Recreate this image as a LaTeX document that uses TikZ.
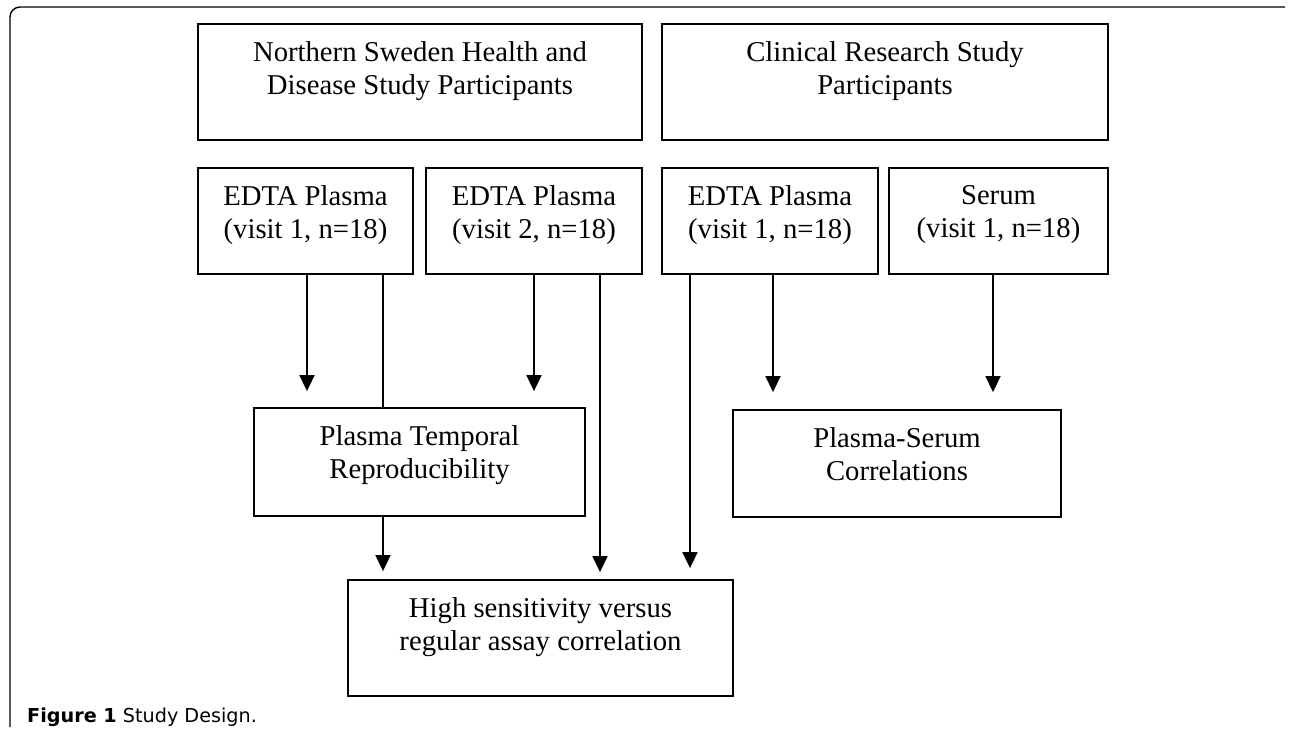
\documentclass[tikz,border=0pt]{standalone}
\usepackage{fontspec}
\setmainfont{Liberation Serif}
\newfontfamily\capfont{DejaVu Sans}
\usetikzlibrary{arrows.meta}
\begin{document}
\begin{tikzpicture}[x=1pt,y=-1pt,
  box/.style={draw, line width=1.8pt, inner sep=0pt},
  txt/.style={anchor=north, inner sep=0pt, align=center, font=\fontsize{28.7}{33.5}\selectfont},
  conn/.style={line width=1.6pt},
  arr/.style={line width=1.6pt, -{Triangle[width=15pt,length=16pt]}},
  frame/.style={line width=1.4pt}]
\useasboundingbox (0,0) rectangle (1290,739);
% frame
\draw[frame] (10,727) -- (10,17) arc[start angle=180,end angle=90,radius=10pt] -- (1285,7);
% boxes
\node[box, minimum width=444pt, minimum height=116pt] (ns) at (420,82) {};
\node[box, minimum width=446pt, minimum height=116pt] (cl) at (885,82) {};
\node[box, minimum width=215pt, minimum height=106pt] (e1) at (305.5,221) {};
\node[box, minimum width=216pt, minimum height=106pt] (e2) at (534,221) {};
\node[box, minimum width=216pt, minimum height=106pt] (e3) at (770,221) {};
\node[box, minimum width=219pt, minimum height=106pt] (se) at (998.5,221) {};
\node[box, minimum width=331pt, minimum height=108pt] (tr) at (419.5,462) {};
\node[box, minimum width=385pt, minimum height=116pt] (hs) at (540.5,638) {};
\node[box, minimum width=328pt, minimum height=107pt] (ps) at (897,463.5) {};
% texts
\node[txt] (tns) at ([yshift=-18pt]ns.north) {Northern Sweden Health and\\Disease Study Participants};
\node[txt] (tcl) at ([yshift=-18pt]cl.north) {Clinical Research Study\\Participants};
\node[txt] (te1) at ([yshift=-18pt]e1.north) {EDTA Plasma\\(visit 1, n=18)};
\node[txt] (te2) at ([yshift=-18pt]e2.north) {EDTA Plasma\\(visit 2, n=18)};
\node[txt] (te3) at ([yshift=-18pt]e3.north) {EDTA Plasma\\(visit 1, n=18)};
\node[txt] (tse) at ([yshift=-18pt]se.north) {Serum\\(visit 1, n=18)};
\node[txt] (ttr) at ([yshift=-18pt]tr.north) {Plasma Temporal\\Reproducibility};
\node[txt] (ths) at ([yshift=-18pt]hs.north) {High sensitivity versus\\regular assay correlation};
\node[txt] (tps) at ([yshift=-18pt]ps.north) {Plasma-Serum\\Correlations};
% connector x positions
\coordinate (x1) at (307,0);
\coordinate (x2) at (383,0);
\coordinate (x3) at (534,0);
\coordinate (x4) at (600,0);
\coordinate (x5) at (690,0);
\coordinate (x6) at (773,0);
\coordinate (x7) at (993,0);
% connectors
\draw[arr, shorten >=16pt] (e1.south -| x1) -- (tr.north -| x1);
\draw[conn] (e1.south -| x2) -- (tr.north -| x2);
\draw[arr, shorten >=16pt] (e2.south -| x3) -- (tr.north -| x3);
\draw[arr, shorten >=7pt] (e2.south -| x4) -- (hs.north -| x4);
\draw[arr, shorten >=11pt] (e3.south -| x5) -- (hs.north -| x5);
\draw[arr, shorten >=17pt] (e3.south -| x6) -- (ps.north -| x6);
\draw[arr, shorten >=17pt] (se.south -| x7) -- (ps.north -| x7);
\draw[arr, shorten >=8pt] (tr.south -| x2) -- (hs.north -| x2);
% caption
\node[anchor=base west, inner sep=0pt, font=\capfont\fontsize{19.2}{22}\selectfont] (cap) at (27,722) {\textbf{Figure 1} Study Design.};
\end{tikzpicture}
\end{document}
